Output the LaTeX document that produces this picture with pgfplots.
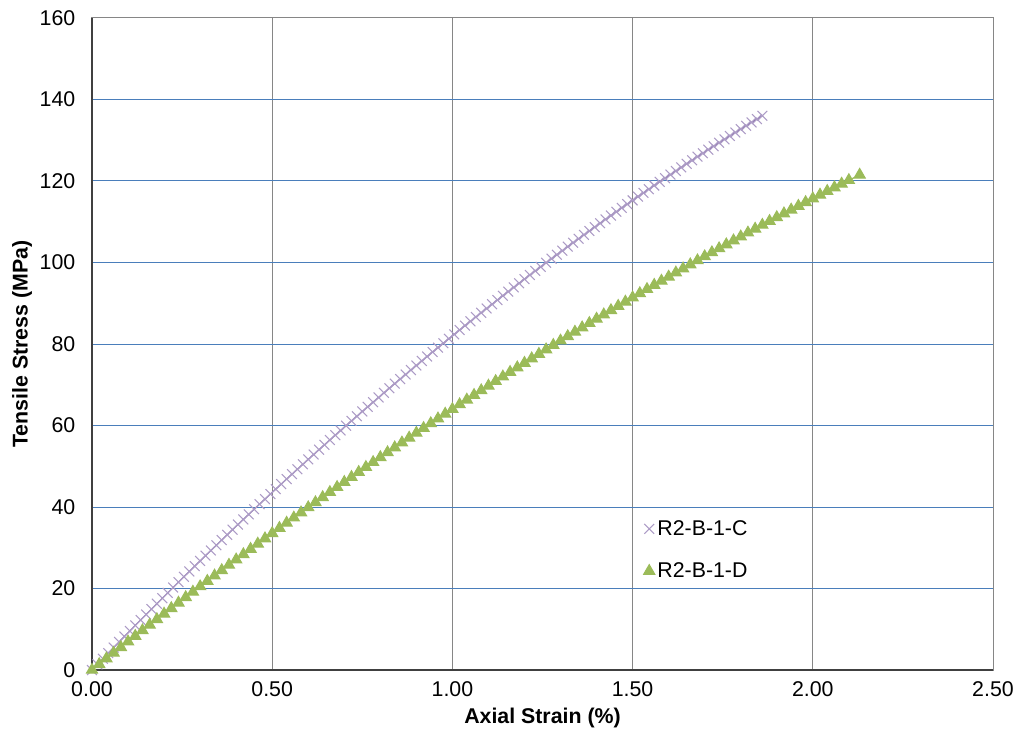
\documentclass[border=0pt]{standalone}
\usepackage{pgfplots}
\pgfplotsset{compat=1.18}
\usepackage{fontspec}
\setmainfont{Liberation Sans}
\usetikzlibrary{calc}
\definecolor{gridblue}{HTML}{4A7EBB}
\definecolor{gridgray}{HTML}{868686}
\definecolor{purpleline}{HTML}{7F63A0}
\definecolor{purplemark}{HTML}{AC9BC6}
\definecolor{greenD}{HTML}{9BBB59}
\begin{document}
\begin{tikzpicture}
\begin{axis}[
  name=ax,
  scale only axis,
  width=675.75pt, height=489pt,
  xmin=0, xmax=2.5, ymin=0, ymax=160,
  xtick={0,0.5,1,1.5,2,2.5},
  ytick={0,20,...,160},
  major tick length=0pt,
  font=\fontsize{16}{19}\selectfont,
  /pgf/number format/assume math mode=true,
  xticklabel style={/pgf/number format/fixed, /pgf/number format/fixed zerofill, /pgf/number format/precision=2, yshift=-5pt},
  yticklabel style={/pgf/number format/fixed, /pgf/number format/precision=0, xshift=-9pt},
  xmajorgrids, ymajorgrids,
  x grid style={gridgray, line width=0.75pt},
  y grid style={gridblue, line width=0.75pt},
  axis line style={gridgray, line width=0.75pt},
  xlabel={\textbf{Axial Strain (\%)}},
  ylabel={\textbf{Tensile Stress (MPa)}},
  xlabel style={at={(axis description cs:0.5,-0.0736)}, anchor=center},
  ylabel style={at={(axis description cs:-0.0777,0.5)}, anchor=center},
  legend style={draw=none, fill=none, at={(axis description cs:0.612,0.234)}, anchor=north west,
    font=\fontsize{16}{19}\selectfont, row sep=15pt, inner sep=0pt},
  legend cell align=left,
  legend image code/.code={\draw[#1] plot coordinates {(0.15cm,0cm)};},
  clip=false,
]
\addplot[purpleline, line width=0.8pt, mark=x, mark size=5.2pt, mark options={purplemark, line width=0.8pt}] coordinates {
(0,0)(0.015,1.38)(0.03,2.76)(0.045,4.13)(0.06,5.50)(0.075,6.87)(0.09,8.23)(0.105,9.58)(0.12,10.93)(0.135,12.28)
(0.15,13.62)(0.165,14.95)(0.18,16.28)(0.195,17.61)(0.21,18.93)(0.225,20.25)(0.24,21.56)(0.255,22.87)(0.27,24.18)(0.285,25.48)
(0.30,26.77)(0.315,28.06)(0.33,29.34)(0.345,30.62)(0.36,31.90)(0.375,33.17)(0.39,34.44)(0.405,35.70)(0.42,36.96)(0.435,38.21)
(0.45,39.46)(0.465,40.70)(0.48,41.94)(0.495,43.17)(0.51,44.40)(0.525,45.63)(0.54,46.85)(0.555,48.06)(0.57,49.27)(0.585,50.48)
(0.60,51.68)(0.615,52.88)(0.63,54.07)(0.645,55.26)(0.66,56.44)(0.675,57.62)(0.69,58.79)(0.705,59.96)(0.72,61.12)(0.735,62.28)
(0.75,63.44)(0.765,64.59)(0.78,65.73)(0.795,66.87)(0.81,68.01)(0.825,69.14)(0.84,70.27)(0.855,71.39)(0.87,72.51)(0.885,73.62)
(0.90,74.73)(0.915,75.83)(0.93,76.93)(0.945,78.03)(0.96,79.12)(0.975,80.20)(0.99,81.28)(1.005,82.36)(1.02,83.43)(1.035,84.50)
(1.05,85.56)(1.065,86.62)(1.08,87.67)(1.095,88.72)(1.11,89.76)(1.125,90.80)(1.14,91.83)(1.155,92.86)(1.17,93.89)(1.185,94.91)
(1.20,95.92)(1.215,96.93)(1.23,97.94)(1.245,98.94)(1.26,99.94)(1.275,100.93)(1.29,101.92)(1.305,102.90)(1.32,103.88)(1.335,104.85)
(1.35,105.82)(1.365,106.78)(1.38,107.74)(1.395,108.70)(1.41,109.65)(1.425,110.59)(1.44,111.53)(1.455,112.47)(1.47,113.40)(1.485,114.33)
(1.50,115.25)(1.515,116.17)(1.53,117.08)(1.545,117.99)(1.56,118.90)(1.575,119.79)(1.59,120.69)(1.605,121.58)(1.62,122.46)(1.635,123.35)
(1.65,124.22)(1.665,125.09)(1.68,125.96)(1.695,126.82)(1.71,127.68)(1.725,128.53)(1.74,129.38)(1.755,130.22)(1.77,131.06)(1.785,131.90)
(1.80,132.72)(1.815,133.55)(1.83,134.37)(1.845,135.19)(1.86,136.00)
};
\addlegendentry{R2-B-1-C}
\addplot[greenD, line width=0.8pt, mark=triangle*, mark size=4.8pt, mark repeat=2, mark options={greenD}] coordinates {
(0,0)(0.01,0.70)(0.02,1.40)(0.03,2.10)(0.04,2.80)(0.05,3.50)(0.06,4.19)(0.07,4.88)(0.08,5.57)(0.09,6.26)
(0.10,6.95)(0.11,7.64)(0.12,8.33)(0.13,9.02)(0.14,9.70)(0.15,10.39)(0.16,11.07)(0.17,11.75)(0.18,12.43)(0.19,13.11)
(0.20,13.79)(0.21,14.47)(0.22,15.14)(0.23,15.81)(0.24,16.48)(0.25,17.16)(0.26,17.83)(0.27,18.50)(0.28,19.16)(0.29,19.83)
(0.30,20.49)(0.31,21.16)(0.32,21.82)(0.33,22.48)(0.34,23.14)(0.35,23.80)(0.36,24.46)(0.37,25.12)(0.38,25.77)(0.39,26.43)
(0.40,27.08)(0.41,27.73)(0.42,28.38)(0.43,29.03)(0.44,29.68)(0.45,30.33)(0.46,30.97)(0.47,31.62)(0.48,32.26)(0.49,32.90)
(0.50,33.54)(0.51,34.18)(0.52,34.82)(0.53,35.46)(0.54,36.09)(0.55,36.73)(0.56,37.36)(0.57,37.99)(0.58,38.62)(0.59,39.25)
(0.60,39.88)(0.61,40.51)(0.62,41.13)(0.63,41.76)(0.64,42.38)(0.65,43.00)(0.66,43.62)(0.67,44.24)(0.68,44.86)(0.69,45.48)
(0.70,46.10)(0.71,46.71)(0.72,47.32)(0.73,47.94)(0.74,48.55)(0.75,49.16)(0.76,49.77)(0.77,50.38)(0.78,50.98)(0.79,51.59)
(0.80,52.19)(0.81,52.79)(0.82,53.39)(0.83,53.99)(0.84,54.59)(0.85,55.19)(0.86,55.78)(0.87,56.38)(0.88,56.97)(0.89,57.57)
(0.90,58.16)(0.91,58.75)(0.92,59.34)(0.93,59.93)(0.94,60.51)(0.95,61.10)(0.96,61.68)(0.97,62.26)(0.98,62.84)(0.99,63.42)
(1.00,64.00)(1.01,64.58)(1.02,65.16)(1.03,65.74)(1.04,66.31)(1.05,66.88)(1.06,67.45)(1.07,68.02)(1.08,68.59)(1.09,69.16)
(1.10,69.73)(1.11,70.30)(1.12,70.86)(1.13,71.42)(1.14,71.98)(1.15,72.54)(1.16,73.10)(1.17,73.66)(1.18,74.22)(1.19,74.78)
(1.20,75.33)(1.21,75.88)(1.22,76.43)(1.23,76.98)(1.24,77.53)(1.25,78.08)(1.26,78.63)(1.27,79.18)(1.28,79.72)(1.29,80.26)
(1.30,80.80)(1.31,81.34)(1.32,81.88)(1.33,82.42)(1.34,82.96)(1.35,83.50)(1.36,84.03)(1.37,84.57)(1.38,85.10)(1.39,85.63)
(1.40,86.16)(1.41,86.69)(1.42,87.21)(1.43,87.74)(1.44,88.26)(1.45,88.79)(1.46,89.31)(1.47,89.83)(1.48,90.35)(1.49,90.87)
(1.50,91.39)(1.51,91.91)(1.52,92.42)(1.53,92.93)(1.54,93.44)(1.55,93.96)(1.56,94.47)(1.57,94.98)(1.58,95.48)(1.59,95.99)
(1.60,96.49)(1.61,97.00)(1.62,97.50)(1.63,98.00)(1.64,98.50)(1.65,99.00)(1.66,99.50)(1.67,100.00)(1.68,100.49)(1.69,100.99)
(1.70,101.48)(1.71,101.97)(1.72,102.46)(1.73,102.95)(1.74,103.44)(1.75,103.93)(1.76,104.41)(1.77,104.90)(1.78,105.38)(1.79,105.86)
(1.80,106.34)(1.81,106.82)(1.82,107.30)(1.83,107.78)(1.84,108.25)(1.85,108.73)(1.86,109.20)(1.87,109.67)(1.88,110.14)(1.89,110.61)
(1.90,111.08)(1.91,111.55)(1.92,112.01)(1.93,112.48)(1.94,112.94)(1.95,113.40)(1.96,113.86)(1.97,114.32)(1.98,114.78)(1.99,115.24)
(2.00,115.69)(2.01,116.15)(2.02,116.60)(2.03,117.05)(2.04,117.50)(2.05,117.95)(2.06,118.40)(2.07,118.85)(2.08,119.30)(2.09,119.74)
(2.10,120.18)(2.11,120.63)(2.13,121.51)
};
\addlegendentry{R2-B-1-D}
\draw[black!75, line width=1pt] (rel axis cs:0,1) -- (rel axis cs:0,0) -- (rel axis cs:1,0);
\end{axis}
\pgfresetboundingbox
\path ($(ax.south west)+(-69pt,-52.5pt)$) rectangle ($(ax.north east)+(20.25pt,13.5pt)$);
\end{tikzpicture}
\end{document}
